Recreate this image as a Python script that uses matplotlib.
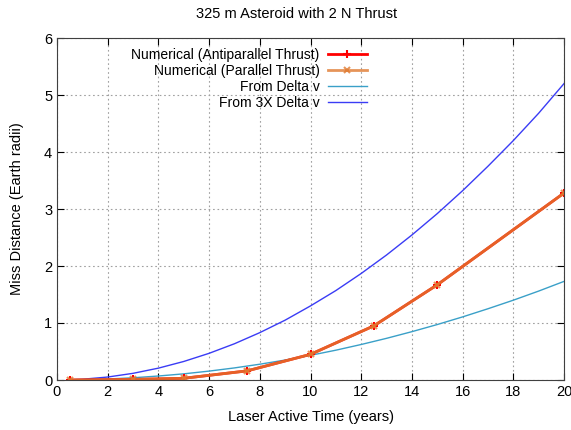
import matplotlib
matplotlib.use("Agg")
import matplotlib.pyplot as plt

plt.rcParams['font.family'] = ['Liberation Sans', 'DejaVu Sans']

num_x = [0.5, 3, 5, 7.5, 10, 12.5, 15, 20]
anti_y = [0.0, 0.01, 0.03, 0.16, 0.45, 0.95, 1.67, 3.28]
para_y = [0.0, 0.01, 0.03, 0.16, 0.45, 0.95, 1.67, 3.28]

dv_x = [0.5, 1, 2, 3, 4, 5, 6, 7, 8, 9, 10, 11, 12, 13, 14, 15, 16, 17, 18, 19, 20]
dv_y = [0.001, 0.004, 0.017, 0.039, 0.070, 0.108, 0.156, 0.212, 0.277, 0.350,
        0.433, 0.523, 0.623, 0.731, 0.848, 0.973, 1.107, 1.250, 1.400, 1.560, 1.730]
dv3_y = [0.003, 0.013, 0.052, 0.117, 0.208, 0.325, 0.468, 0.636, 0.831, 1.050,
         1.300, 1.569, 1.869, 2.193, 2.544, 2.919, 3.321, 3.750, 4.200, 4.680, 5.200]

fig = plt.figure(figsize=(5.71, 4.30), dpi=100)
ax = fig.add_axes([57/571, 1 - 380/430, (564-57)/571, (380-38)/430])

ax.plot(dv_x, dv_y, color='#3aa0c8', lw=1.0, label='From Delta v')
ax.plot(dv_x, dv3_y, color='#3a3cf5', lw=1.0, label='From 3X Delta v')
ax.plot(num_x, anti_y, color='#ff0000', lw=2.0, marker='+', ms=6, mew=1.5,
        label='Numerical (Antiparallel Thrust)')
ax.plot(num_x, para_y, color='#e07a30', lw=2.0, marker='x', ms=5, mew=1.5,
        alpha=0.8, label='Numerical (Parallel Thrust)')

ax.set_xlim(0, 20)
ax.set_ylim(0, 6)
ax.set_xticks(range(0, 21, 2))
ax.set_yticks(range(0, 7))
ax.grid(True, color='#a0a0a0', linestyle=(0, (1.5, 2.5)), lw=0.8)
ax.tick_params(direction='in', top=True, right=True, length=5, labelsize=10.5, width=0.8)
for s in ax.spines.values():
    s.set_color('#404040')
    s.set_linewidth(0.8)

ax.set_xlabel('Laser Active Time (years)', fontsize=10.5, labelpad=8)
ax.set_ylabel('Miss Distance (Earth radii)', fontsize=10.5, labelpad=14)
fig.text(0.5 + 0.02, 1 - 14/430, '325 m Asteroid with 2 N Thrust', ha='center', va='center', fontsize=10.5)

handles, labels = ax.get_legend_handles_labels()
order = [2, 3, 0, 1]
leg = ax.legend([handles[i] for i in order], [labels[i] for i in order],
                loc='upper left', bbox_to_anchor=(0.13, 0.995), frameon=False,
                markerfirst=False, fontsize=10, handlelength=2.8,
                labelspacing=0.15, handletextpad=0.6, borderaxespad=0.2)
for t in leg.get_texts():
    t.set_ha('right')
leg._legend_box.align = 'right'

fig.savefig('out.png', dpi=100)
